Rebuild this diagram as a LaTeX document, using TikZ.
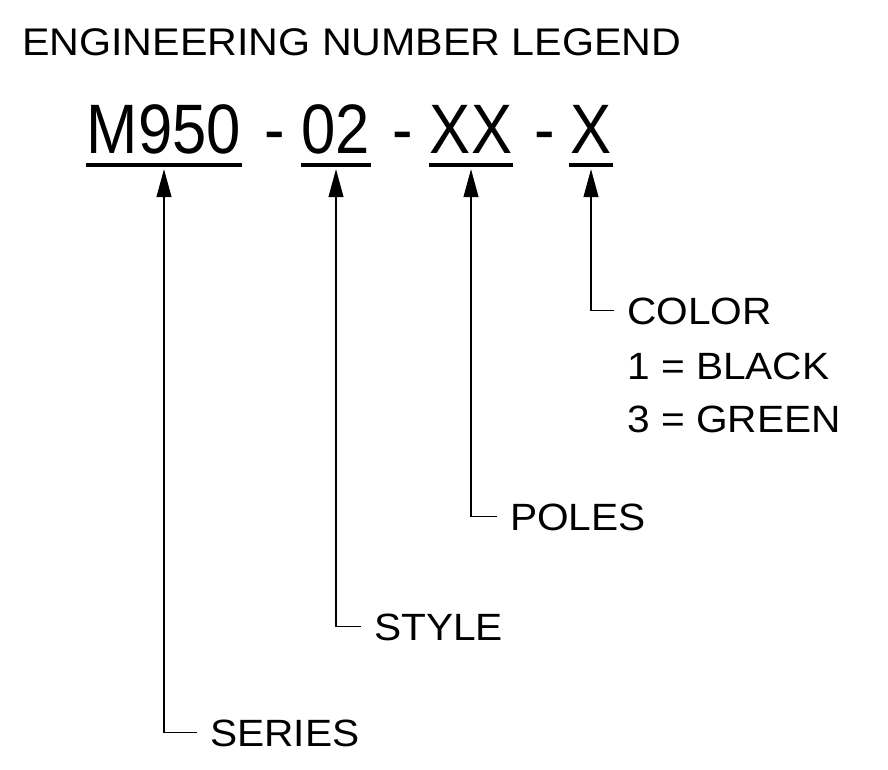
\documentclass[tikz,border=0pt]{standalone}
\usepackage{fontspec}
\setmainfont{Liberation Sans}
\newfontfamily\labelfont[FakeStretch=1.07]{Liberation Sans}
\newfontfamily\partfont[FakeStretch=0.88]{Liberation Sans}
\usetikzlibrary{arrows.meta}

\begin{document}
\begin{tikzpicture}[x=1pt,y=-1pt,>={Triangle[length=28pt,width=15pt]},
  lbl/.style={anchor=base west,inner xsep=13pt,inner ysep=0pt,font=\labelfont\fontsize{38}{46}\selectfont},
  part/.style={anchor=base,inner xsep=1pt,inner ysep=12pt,text depth=0pt,font=\partfont\fontsize{70}{84}\selectfont},
  conn/.style={line width=1.1pt,->,shorten >=4pt}]
  \useasboundingbox (0,0) rectangle (888,769);
  \node[anchor=base west,inner sep=0pt,font=\labelfont\fontsize{38.5}{46}\selectfont] (title) at (22,55) {ENGINEERING NUMBER LEGEND};
  % part number
  \node[part] (m950) at (164,153) {M950};
  \node[part] (dasha) at (275,153) {-};
  \node[part] (style02) at (336,153) {02};
  \node[part] (dashb) at (403,153) {-};
  \node[part] (polesxx) at (471,153) {XX};
  \node[part] (dashc) at (545,153) {-};
  \node[part] (colorx) at (591,153) {X};
  \foreach \p in {m950,style02,polesxx,colorx}
    \draw[line width=4.5pt] (\p.south west) -- (\p.south east);
  % legend
  \node[lbl] (color) at (614,324) {COLOR};
  \node[lbl] (black) at (614,379) {1 = BLACK};
  \node[lbl] (green) at (614,432) {3 = GREEN};
  \node[lbl] (poles) at (497,530) {POLES};
  \node[lbl] (style) at (361,640) {STYLE};
  \node[lbl] (series) at (197,746) {SERIES};
  \draw[conn] (color.west) -| (colorx.south);
  \draw[conn] (poles.west) -| (polesxx.south);
  \draw[conn] (style.west) -| (style02.south);
  \draw[conn] (series.west) -| (m950.south);
\end{tikzpicture}
\end{document}
